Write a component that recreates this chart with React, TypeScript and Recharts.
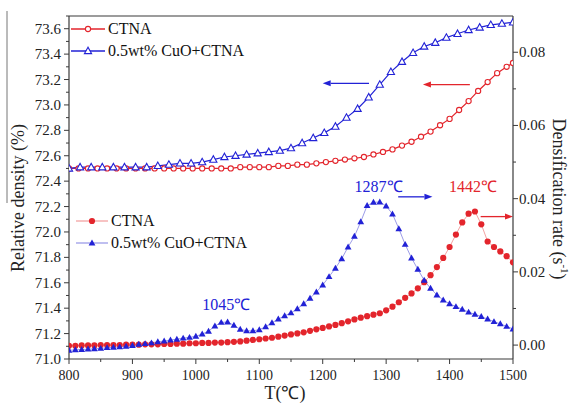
import React from "react";
import { ComposedChart, Line, XAxis, YAxis, Legend, ReferenceLine, ReferenceDot } from "recharts";

const RED = "#e3252c";
const BLUE = "#2222d6";
const RED_PALE = "#f3a3a3";
const BLUE_PALE = "#9c9ce8";
const AXIS = "#3a3a3a";
const FONT = '"Liberation Serif", "Times New Roman", serif';

// relative density, CTNA (open circles)
const densTempCTNA = [
  800, 815, 830, 845, 860, 875, 890, 905, 920, 935,
  950, 965, 980, 995, 1010, 1025, 1040, 1055, 1070, 1085,
  1100, 1115, 1130, 1145, 1160, 1175, 1190, 1205, 1220, 1235,
  1250, 1265, 1280, 1295, 1310, 1325, 1340, 1355, 1370, 1385,
  1400, 1415, 1430, 1445, 1460, 1475, 1490, 1500,
];
const densCTNA = [
  72.5, 72.5, 72.5, 72.5, 72.5, 72.5, 72.5, 72.5, 72.5, 72.5,
  72.5, 72.5, 72.5, 72.5, 72.5, 72.5, 72.5, 72.5, 72.51, 72.51,
  72.51, 72.51, 72.52, 72.52, 72.53, 72.53, 72.54, 72.55, 72.56, 72.57,
  72.58, 72.59, 72.61, 72.63, 72.65, 72.68, 72.71, 72.75, 72.79, 72.84,
  72.89, 72.96, 73.03, 73.11, 73.18, 73.25, 73.3, 73.33,
];

// relative density, 0.5wt% CuO+CTNA (open triangles)
const densTempCuO = [
  800, 817.5, 835, 852.5, 870, 887.5, 905, 922.5, 940, 957.5,
  975, 992.5, 1010, 1027.5, 1045, 1062.5, 1080, 1097.5, 1115, 1132.5,
  1150, 1167.5, 1185, 1202.5, 1220, 1237.5, 1255, 1272.5, 1290, 1307.5,
  1325, 1342.5, 1360, 1377.5, 1395, 1412.5, 1430, 1447.5, 1465, 1482.5,
  1500,
];
const densCuO = [
  72.5, 72.51, 72.51, 72.51, 72.51, 72.51, 72.51, 72.51, 72.52, 72.53,
  72.54, 72.54, 72.55, 72.57, 72.59, 72.6, 72.61, 72.62, 72.63, 72.64,
  72.66, 72.7, 72.74, 72.78, 72.83, 72.9, 72.97, 73.06, 73.16, 73.26,
  73.34, 73.41, 73.46, 73.49, 73.53, 73.56, 73.59, 73.61, 73.63, 73.64,
  73.65,
];

// densification rate (s^-1)
const rateTemps = [
  800, 810, 820, 830, 840, 850, 860, 870, 880, 890,
  900, 910, 920, 930, 940, 950, 960, 970, 980, 990,
  1000, 1010, 1020, 1030, 1040, 1050, 1060, 1070, 1080, 1090,
  1100, 1110, 1120, 1130, 1140, 1150, 1160, 1170, 1180, 1190,
  1200, 1210, 1220, 1230, 1240, 1250, 1260, 1270, 1280, 1290,
  1300, 1310, 1320, 1330, 1340, 1350, 1360, 1370, 1380, 1390,
  1400, 1410, 1420, 1430, 1440, 1450, 1460, 1470, 1480, 1490,
  1500,
];
const rateCTNA = [
  -0.0002, -0.0002, -0.0001, -0.0001, -0.0001, 0.0, 0.0, 0.0, 0.0, 0.0001,
  0.0001, 0.0001, 0.0002, 0.0002, 0.0002, 0.0003, 0.0003, 0.0004, 0.0004, 0.0005,
  0.0005, 0.0006, 0.0006, 0.0007, 0.0007, 0.0008, 0.0009, 0.001, 0.0012, 0.0014,
  0.0016, 0.0018, 0.002, 0.0023, 0.0026, 0.0029, 0.0032, 0.0035, 0.0039, 0.0043,
  0.0047, 0.0051, 0.0055, 0.006, 0.0065, 0.007, 0.0075, 0.0079, 0.0083, 0.0087,
  0.0095, 0.0105, 0.0117, 0.0129, 0.0141, 0.0155, 0.0172, 0.0191, 0.0213, 0.0238,
  0.0268, 0.0302, 0.0335, 0.0359, 0.0365, 0.033, 0.0283, 0.0268, 0.0256, 0.0243,
  0.0226,
];
const rateCuO = [
  -0.0014, -0.0013, -0.0012, -0.0011, -0.001, -0.0009, -0.0007, -0.0006, -0.0005, -0.0003,
  -0.0001, 0.0002, 0.0004, 0.0006, 0.0009, 0.0011, 0.0014, 0.0016, 0.0019, 0.0021,
  0.0024, 0.003, 0.0038, 0.0052, 0.0062, 0.0063, 0.0054, 0.0043, 0.0039, 0.0039,
  0.0042, 0.005, 0.0061, 0.0071, 0.008, 0.0088, 0.0099, 0.0113, 0.0128, 0.0145,
  0.0164, 0.0187, 0.021, 0.0236, 0.0268, 0.0297, 0.0337, 0.0381, 0.039, 0.0391,
  0.038, 0.0358, 0.0318, 0.0275, 0.0238, 0.0207, 0.0177, 0.0155, 0.0137, 0.0123,
  0.0113, 0.0105, 0.0098, 0.009, 0.0084, 0.0078, 0.0071, 0.0064, 0.0058, 0.0051,
  0.0044,
];

const xTicks = [800, 850, 900, 950, 1000, 1050, 1100, 1150, 1200, 1250, 1300, 1350, 1400, 1450, 1500];
const leftTicks = [
  71.0, 71.1, 71.2, 71.3, 71.4, 71.5, 71.6, 71.7, 71.8, 71.9, 72.0, 72.1, 72.2, 72.3,
  72.4, 72.5, 72.6, 72.7, 72.8, 72.9, 73.0, 73.1, 73.2, 73.3, 73.4, 73.5, 73.6, 73.7,
];
const rightTicks = [0, 0.01, 0.02, 0.03, 0.04, 0.05, 0.06, 0.07, 0.08];

const dCTNAData = densTempCTNA.map((T, i) => ({ T, dCTNA: densCTNA[i] }));
const dCuOData = densTempCuO.map((T, i) => ({ T, dCuO: densCuO[i] }));
const rCTNAData = rateTemps.map((T, i) => ({ T, rCTNA: rateCTNA[i] }));
const rCuOData = rateTemps.map((T, i) => ({ T, rCuO: rateCuO[i] }));

type Style = { line: string; color: string; shape: "circle" | "triangle"; filled: boolean };
const styles: Record<string, Style> = {
  dCTNA: { line: RED, color: RED, shape: "circle", filled: false },
  dCuO: { line: BLUE, color: BLUE, shape: "triangle", filled: false },
  rCTNA: { line: RED_PALE, color: RED, shape: "circle", filled: true },
  rCuO: { line: BLUE_PALE, color: BLUE, shape: "triangle", filled: true },
};

function Marker({ cx, cy, s }: { cx: number; cy: number; s: Style }) {
  if (s.shape === "circle") {
    return s.filled ? (
      <circle cx={cx} cy={cy} r={3.1} fill={s.color} />
    ) : (
      <circle cx={cx} cy={cy} r={2.6} fill="#fff" stroke={s.color} strokeWidth={1.1} />
    );
  }
  const h = s.filled ? 3.5 : 3.8;
  const w = s.filled ? 3.4 : 3.6;
  const pts = `${cx},${cy - h} ${cx - w},${cy + h * 0.7} ${cx + w},${cy + h * 0.7}`;
  return s.filled ? (
    <polygon points={pts} fill={s.color} />
  ) : (
    <polygon points={pts} fill="#fff" stroke={s.color} strokeWidth={1.1} />
  );
}

const dotFor = (key: string) => (p: any) => {
  if (p.cx == null || p.cy == null) return <g key={`${key}-${p.index}`} />;
  return (
    <g key={`${key}-${p.index}`}>
      <Marker cx={p.cx} cy={p.cy} s={styles[key]} />
    </g>
  );
};

const XTick = ({ x, y, payload }: any) => {
  const v = payload.value;
  const major = v % 100 === 0;
  return (
    <g>
      <line x1={x} x2={x} y1={y} y2={y + (major ? 5 : 3)} stroke={AXIS} />
      {major && (
        <text x={x} y={y + 21} textAnchor="middle" fontSize={14} fill="#222" fontFamily={FONT}>
          {v}
        </text>
      )}
    </g>
  );
};

const LeftTick = ({ x, y, payload }: any) => {
  const v = payload.value;
  const major = Math.round(v * 10) % 2 === 0;
  return (
    <g>
      <line x1={x} x2={x - (major ? 5 : 3)} y1={y} y2={y} stroke={AXIS} />
      {major && (
        <text x={x - 8} y={y + 5} textAnchor="end" fontSize={15} fill="#222" fontFamily={FONT}>
          {v.toFixed(1)}
        </text>
      )}
    </g>
  );
};

const RightTick = ({ x, y, payload }: any) => {
  const v = payload.value;
  const major = Math.round(v * 100) % 2 === 0;
  return (
    <g>
      <line x1={x} x2={x + (major ? 5 : 3)} y1={y} y2={y} stroke={AXIS} />
      {major && (
        <text x={x + 6} y={y + 5} textAnchor="start" fontSize={15} fill="#222" fontFamily={FONT}>
          {v.toFixed(2)}
        </text>
      )}
    </g>
  );
};

const arrow = (color: string) => (p: any) => {
  const { x1, y1, x2, y2 } = p;
  const a = Math.atan2(y2 - y1, x2 - x1);
  const L = 8;
  const W = 3;
  const bx = x2 - L * Math.cos(a);
  const by = y2 - L * Math.sin(a);
  const pts = `${x2},${y2} ${bx - W * Math.sin(a)},${by + W * Math.cos(a)} ${bx + W * Math.sin(a)},${by - W * Math.cos(a)}`;
  return (
    <g>
      <line x1={x1} y1={y1} x2={bx} y2={by} stroke={color} strokeWidth={1.3} />
      <polygon points={pts} fill={color} />
    </g>
  );
};

const note = (label: string, color: string) => (p: any) => (
  <text x={p.cx} y={p.cy} dy={5} textAnchor="middle" fontSize={16} fill={color} fontFamily={FONT}>
    {label}
  </text>
);

const legendSpots: Record<string, { x: number; y: number; len: number }> = {
  dCTNA: { x: 71, y: 29, len: 34 },
  dCuO: { x: 71, y: 51, len: 34 },
  rCTNA: { x: 76, y: 221, len: 32 },
  rCuO: { x: 76, y: 243, len: 32 },
};

const LegendContent = ({ payload }: any) => (
  <div style={{ position: "relative", width: 573, height: 403 }}>
    {(payload || []).map((e: any) => {
      const key = String(e.dataKey);
      const spot = legendSpots[key];
      const s = styles[key];
      if (!spot || !s) return null;
      return (
        <div
          key={key}
          style={{ position: "absolute", left: spot.x, top: spot.y - 10, height: 20, display: "flex", alignItems: "center" }}
        >
          <svg width={spot.len} height={20}>
            <line x1={0} x2={spot.len} y1={10} y2={10} stroke={s.line} strokeWidth={1.3} />
            <Marker cx={spot.len / 2} cy={10} s={s} />
          </svg>
          <span style={{ fontFamily: FONT, fontSize: 16, color: "#111", marginLeft: 3, lineHeight: "20px", whiteSpace: "nowrap" }}>
            {e.value}
          </span>
        </div>
      );
    })}
  </div>
);

export default function App() {
  return (
    <div style={{ position: "absolute", left: 0, top: 0, width: 573, height: 403, background: "#fff" }}>
      <ComposedChart width={573} height={403} margin={{ top: 16, right: 0, bottom: 0, left: 0 }}>
        <XAxis
          dataKey="T"
          type="number"
          domain={[800, 1500]}
          ticks={xTicks}
          interval={0}
          allowDataOverflow
          height={44}
          tickSize={0}
          tickMargin={0}
          tickLine={false}
          axisLine={{ stroke: AXIS, strokeWidth: 1.2 }}
          tick={<XTick />}
        />
        <YAxis
          yAxisId="left"
          type="number"
          domain={[71.0, 73.7]}
          ticks={leftTicks}
          interval={0}
          allowDataOverflow
          width={69}
          tickSize={0}
          tickMargin={0}
          tickLine={false}
          axisLine={{ stroke: AXIS, strokeWidth: 1.2 }}
          tick={<LeftTick />}
        />
        <YAxis
          yAxisId="right"
          orientation="right"
          type="number"
          domain={[-0.0038, 0.0899]}
          ticks={rightTicks}
          interval={0}
          allowDataOverflow
          width={60}
          tickSize={0}
          tickMargin={0}
          tickLine={false}
          axisLine={{ stroke: AXIS, strokeWidth: 1.2 }}
          tick={<RightTick />}
        />
        <ReferenceLine yAxisId="left" y={73.7} stroke={AXIS} strokeWidth={1.2} ifOverflow="visible" />

        <Line
          yAxisId="left"
          data={dCTNAData}
          dataKey="dCTNA"
          name="CTNA"
          stroke={RED}
          strokeWidth={1.2}
          dot={dotFor("dCTNA")}
          activeDot={false}
          isAnimationActive={false}
        />
        <Line
          yAxisId="left"
          data={dCuOData}
          dataKey="dCuO"
          name="0.5wt% CuO+CTNA"
          stroke={BLUE}
          strokeWidth={1.2}
          dot={dotFor("dCuO")}
          activeDot={false}
          isAnimationActive={false}
        />
        <Line
          yAxisId="right"
          data={rCTNAData}
          dataKey="rCTNA"
          name="CTNA"
          stroke={RED_PALE}
          strokeWidth={1}
          dot={dotFor("rCTNA")}
          activeDot={false}
          isAnimationActive={false}
        />
        <Line
          yAxisId="right"
          data={rCuOData}
          dataKey="rCuO"
          name="0.5wt% CuO+CTNA"
          stroke={BLUE_PALE}
          strokeWidth={1}
          dot={dotFor("rCuO")}
          activeDot={false}
          isAnimationActive={false}
        />

        {/* arrows pointing to the axis each curve belongs to */}
        <ReferenceLine yAxisId="left" segment={[{ x: 1273, y: 73.17 }, { x: 1200, y: 73.17 }]} shape={arrow(BLUE)} />
        <ReferenceLine yAxisId="left" segment={[{ x: 1432, y: 73.16 }, { x: 1358, y: 73.16 }]} shape={arrow(RED)} />
        <ReferenceLine yAxisId="right" segment={[{ x: 1319, y: 0.0405 }, { x: 1373, y: 0.0405 }]} shape={arrow(BLUE)} />
        <ReferenceLine yAxisId="right" segment={[{ x: 1449, y: 0.0351 }, { x: 1500, y: 0.0351 }]} shape={arrow(RED)} ifOverflow="visible" />

        <ReferenceDot yAxisId="right" x={1048} y={0.011} r={0} shape={note("1045℃", BLUE)} />
        <ReferenceDot yAxisId="right" x={1288} y={0.0433} r={0} shape={note("1287℃", BLUE)} />
        <ReferenceDot yAxisId="right" x={1437} y={0.0433} r={0} shape={note("1442℃", RED)} />

        <Legend
          layout="vertical"
          align="center"
          verticalAlign="middle"
          wrapperStyle={{ position: "absolute", left: 0, top: 0, width: 573, height: 403, margin: 0 }}
          content={<LegendContent />}
        />

        <line x1={7} x2={7} y1={11} y2={203} stroke="#777" strokeWidth={1} />
        <text
          x={18}
          y={198}
          transform="rotate(-90, 18, 198)"
          textAnchor="middle"
          dominantBaseline="central"
          fontSize={18}
          fill="#222"
          fontFamily={FONT}
        >
          Relative density (%)
        </text>
        <text
          x={559}
          y={199}
          transform="rotate(90, 559, 199)"
          textAnchor="middle"
          dominantBaseline="central"
          fontSize={18}
          fill="#222"
          fontFamily={FONT}
        >
          Densification rate (s
          <tspan dy={-6} fontSize={11}>-1</tspan>
          <tspan dy={6}>)</tspan>
        </text>
        <text x={285} y={399} textAnchor="middle" fontSize={18} fill="#222" fontFamily={FONT}>
          T(℃)
        </text>
      </ComposedChart>
    </div>
  );
}
